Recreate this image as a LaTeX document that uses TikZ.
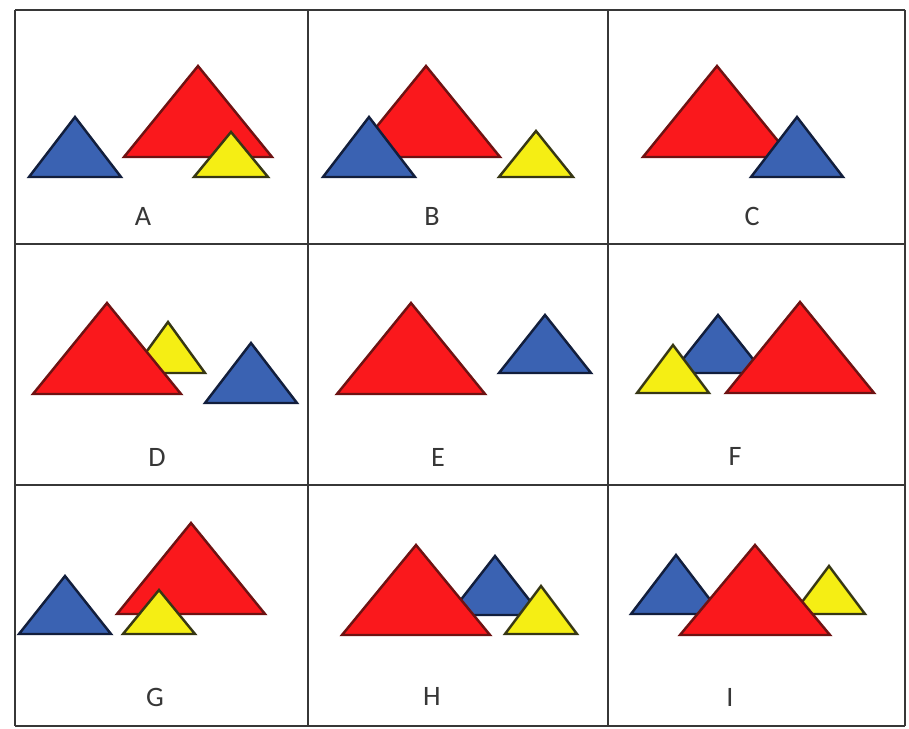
\documentclass[tikz,border=0pt]{standalone}
\usepackage{fontspec}
\setmainfont{Carlito}
\usepackage{xcolor}
\usepackage{tikz}
\usetikzlibrary{positioning}

\definecolor{trired}{RGB}{250,24,28}
\definecolor{trireddraw}{RGB}{110,18,18}
\definecolor{triblue}{RGB}{58,98,178}
\definecolor{tribluedraw}{RGB}{18,30,60}
\definecolor{triyellow}{RGB}{245,238,20}
\definecolor{triyellowdraw}{RGB}{55,55,20}
\definecolor{gridgray}{RGB}{55,55,55}

\tikzset{
    redtri/.style={fill=trired, draw=trireddraw, line width=1.4pt},
    bluetri/.style={fill=triblue, draw=tribluedraw, line width=1.4pt},
    yellowtri/.style={fill=triyellow, draw=triyellowdraw, line width=1.4pt},
    cellname/.style={font=\fontsize{16}{18}\selectfont, text=gridgray}
}

\begin{document}
\begin{tikzpicture}[x=0.02cm, y=-0.02cm]
\useasboundingbox (0,0) rectangle (909,729);
\fill[white] (0,0) rectangle (909,729);

% Draw grid
\foreach \gx in {15,308,608,905} {
    \draw[gridgray, line width=1.5pt] (\gx,10) -- (\gx,726);
}
\foreach \gy in {10,244,485,726} {
    \draw[gridgray, line width=1.5pt] (15,\gy) -- (905,\gy);
}

% Cell A
\draw[bluetri] (29,177) -- ++(46,-60) -- ++(46,60) -- cycle;
\draw[redtri] (124,157) -- ++(74,-91) -- ++(74,91) -- cycle;
\draw[yellowtri] (194,177) -- ++(37,-45) -- ++(37,45) -- cycle;
\node[cellname] (labelA) at (143,216) {A};

% Cell B
\draw[redtri] (352,157) -- ++(74,-91) -- ++(74,91) -- cycle;
\draw[bluetri] (323,177) -- ++(46,-60) -- ++(46,60) -- cycle;
\draw[yellowtri] (499,177) -- ++(37,-46) -- ++(37,46) -- cycle;
\node[cellname] (labelB) at (432,216) {B};

% Cell C
\draw[redtri] (643,157) -- ++(74,-91) -- ++(74,91) -- cycle;
\draw[bluetri] (751,177) -- ++(46,-60) -- ++(46,60) -- cycle;
\node[cellname] (labelC) at (752,216) {C};

% Cell D
\draw[yellowtri] (131,373) -- ++(37,-51) -- ++(37,51) -- cycle;
\draw[redtri] (33,394) -- ++(74,-91) -- ++(74,91) -- cycle;
\draw[bluetri] (205,403) -- ++(46,-60) -- ++(46,60) -- cycle;
\node[cellname] (labelD) at (157,457) {D};

% Cell E
\draw[redtri] (337,394) -- ++(74,-91) -- ++(74,91) -- cycle;
\draw[bluetri] (499,373) -- ++(46,-58) -- ++(46,58) -- cycle;
\node[cellname] (labelE) at (438,457) {E};

% Cell F
\draw[bluetri] (672,373) -- ++(46,-58) -- ++(46,58) -- cycle;
\draw[yellowtri] (637,393) -- ++(36,-48) -- ++(36,48) -- cycle;
\draw[redtri] (726,393) -- ++(74,-91) -- ++(74,91) -- cycle;
\node[cellname] (labelF) at (735,456) {F};

% Cell G
\draw[bluetri] (19,634) -- ++(46,-58) -- ++(46,58) -- cycle;
\draw[redtri] (117,614) -- ++(74,-91) -- ++(74,91) -- cycle;
\draw[yellowtri] (123,634) -- ++(36,-44) -- ++(36,44) -- cycle;
\node[cellname] (labelG) at (155,697) {G};

% Cell H
\draw[bluetri] (449,615) -- ++(46,-59) -- ++(46,59) -- cycle;
\draw[redtri] (342,635) -- ++(74,-90) -- ++(74,90) -- cycle;
\draw[yellowtri] (505,634) -- ++(36,-48) -- ++(36,48) -- cycle;
\node[cellname] (labelH) at (432,696) {H};

% Cell I
\draw[bluetri] (631,614) -- ++(45,-59) -- ++(45,59) -- cycle;
\draw[yellowtri] (793,614) -- ++(36,-48) -- ++(36,48) -- cycle;
\draw[redtri] (680,635) -- ++(75,-90) -- ++(75,90) -- cycle;
\node[cellname] (labelI) at (730,697) {I};

\end{tikzpicture}
\end{document}
